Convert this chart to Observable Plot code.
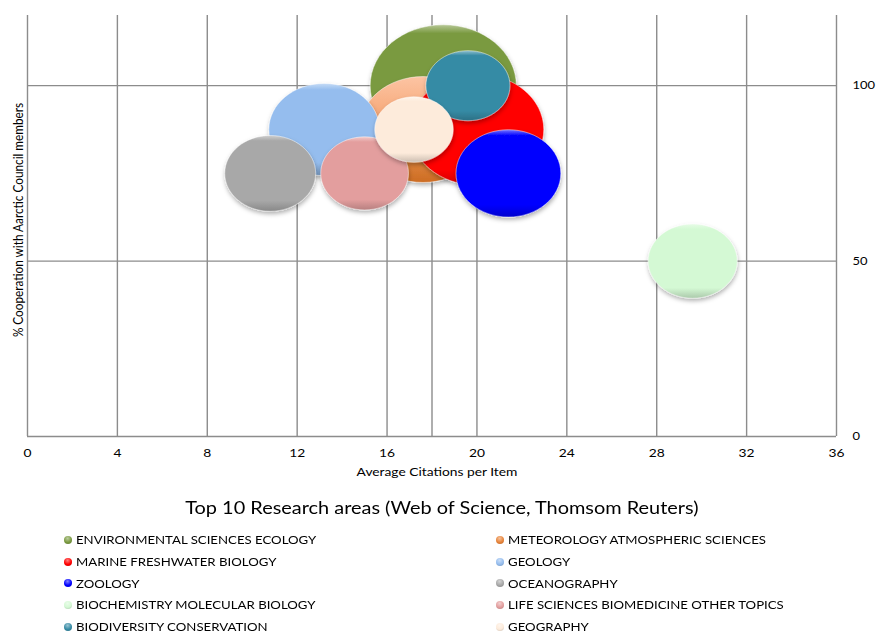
<!DOCTYPE html>
<html>
<head>
<meta charset="utf-8">
<script src="https://cdn.jsdelivr.net/npm/d3@7"></script>
<script src="https://cdn.jsdelivr.net/npm/@observablehq/plot@0.6"></script>
<style>
  html, body { margin: 0; padding: 0; background: #fff; }
  #wrap { width: 883px; font-family: Lato, "Open Sans", sans-serif; color: #000; }
  #title { text-align: center; font-size: 16.6px; line-height: 24px; margin-top: 11px; height: 24px; }
  #title span { display: inline-block; transform: scaleX(1.2); transform-origin: 50% 50%; }
  #legend { display: grid; grid-template-columns: 432px 387px; padding-left: 64px; padding-top: 9px; }
  .item { height: 21.75px; line-height: 21.75px; font-size: 11px; white-space: nowrap; display: flex; align-items: center; }
  .item .tx { display: inline-block; transform: scaleX(1.2); transform-origin: 0 50%; }
  .sw { width: 8px; height: 8px; border-radius: 50%; margin-right: 4px; flex: none; }
</style>
</head>
<body>
<div id="wrap">
  <div id="chart"></div>
  <div id="title"><span></span></div>
  <div id="legend"></div>
</div>
<script>
// ---- data ----
const areas = [
  "ENVIRONMENTAL SCIENCES ECOLOGY",
  "METEOROLOGY ATMOSPHERIC SCIENCES",
  "MARINE FRESHWATER BIOLOGY",
  "GEOLOGY",
  "ZOOLOGY",
  "OCEANOGRAPHY",
  "BIOCHEMISTRY MOLECULAR BIOLOGY",
  "LIFE SCIENCES BIOMEDICINE OTHER TOPICS",
  "BIODIVERSITY CONSERVATION",
  "GEOGRAPHY"
];
const avgCitations = [18.5, 17.6, 20.0, 13.2, 21.4, 10.8, 29.6, 15.0, 19.6, 17.2];
const cooperation = [100, 87.5, 87.5, 87.5, 75, 75, 50, 75, 100, 87.5];
const bubbleSize = [1000, 756, 836, 573, 514, 387, 372, 360, 331, 288];
const colors = ["#7a9a40", "#e8843a", "#ff0000", "#95bdee", "#0000ff", "#a8a8a8", "#d4f9d4", "#e39e9e", "#368ba5", "#fdebdb"];
const xTicks = [0, 4, 8, 12, 16, 20, 24, 28, 32, 36];
const yTicks = [0, 50, 100];
const xLabel = "Average Citations per Item";
const yLabel = "% Cooperation with Aarctic Council members";
const chartTitle = "Top 10 Research areas (Web of Science, Thomsom Reuters)";

const data = areas.map((a, i) => ({area: a, x: avgCitations[i], y: cooperation[i], size: bubbleSize[i]}));

// the whole reference picture is stretched horizontally by this factor
const STRETCH = 1.2;
const K = Math.sqrt(STRETCH), KAPPA = 0.5523;
const ellipse = {
  draw(ctx, size) {
    const r = Math.sqrt(size / Math.PI);
    const rx = r * K, ry = r / K;
    ctx.moveTo(rx, 0);
    ctx.bezierCurveTo(rx, ry * KAPPA, rx * KAPPA, ry, 0, ry);
    ctx.bezierCurveTo(-rx * KAPPA, ry, -rx, ry * KAPPA, -rx, 0);
    ctx.bezierCurveTo(-rx, -ry * KAPPA, -rx * KAPPA, -ry, 0, -ry);
    ctx.bezierCurveTo(rx * KAPPA, -ry, rx, -ry * KAPPA, rx, 0);
    ctx.closePath();
  }
};

const gridStyle = {stroke: "#8c8c8c", strokeOpacity: 1, strokeWidth: 1.4};

const svg = Plot.plot({
  width: 883,
  height: 485,
  marginLeft: 27,
  marginRight: 47,
  marginTop: 15,
  marginBottom: 49,
  style: {fontFamily: "Lato, 'Open Sans', sans-serif", fontSize: "11px", color: "#000", background: "#fff", overflow: "visible"},
  x: {domain: [0, 36], label: null},
  y: {domain: [0, 120], label: null},
  r: {domain: [0, 1000], range: [0, 66.7]},
  color: {domain: areas, range: areas.map((d, i) => `url(#bubble-grad-${i})`)},
  marks: [
    Plot.gridX(xTicks, gridStyle),
    Plot.ruleX([18], gridStyle),
    Plot.gridY(yTicks, gridStyle),
    Plot.axisX(xTicks, {tickSize: 0, tickPadding: 12, tickFormat: d => String(d), fontSize: 11.5, label: null}),
    Plot.axisY(yTicks, {anchor: "right", tickSize: 0, tickPadding: 16, tickFormat: d => String(d), fontSize: 10.8, label: null}),
    Plot.dot(data, {x: "x", y: "y", r: "size", fill: "area", symbol: ellipse, sort: null,
      stroke: "#ffffff", strokeOpacity: 0.45, strokeWidth: 1}),
    Plot.text([xLabel], {frameAnchor: "bottom", dy: 36, dx: 5, textAnchor: "middle", lineAnchor: "middle", fontSize: 11.5}),
    Plot.text([yLabel], {frameAnchor: "left", rotate: -90, dx: -9, dy: -6, textAnchor: "middle", lineAnchor: "middle", fontSize: 11.8})
  ]
});

// stretch every text horizontally around its anchor, like the reference
d3.select(svg).selectAll("text").each(function() {
  const t = this.getAttribute("transform") || "";
  const x = +this.getAttribute("x") || 0, y = +this.getAttribute("y") || 0;
  const m = t.match(/^\s*translate\([^)]*\)/);
  const pre = m ? m[0] : "";
  const rest = m ? t.slice(m[0].length) : t;
  this.setAttribute("transform", `${pre} translate(${x},${y}) scale(${STRETCH},1) translate(${-x},${-y}) ${rest}`);
});

// gradients + shadow for the 3-D bubble look
const defs = d3.select(svg).insert("defs", ":first-child");
function stopsFor(i) {
  const c = colors[i];
  if (i === 1) {
    return [[0, "#fcc4a3"], [0.4, "#f6a675"], [0.75, "#e2883f"], [1, "#cc6c24"]];
  }
  const light = d3.interpolateRgb(c, "#ffffff")(0.45);
  const dark = d3.color(c).darker(0.6).formatHex();
  return [[0, light], [0.07, c], [0.86, c], [1, dark]];
}
colors.forEach((c, i) => {
  const g = defs.append("linearGradient").attr("id", `bubble-grad-${i}`)
    .attr("x1", 0).attr("y1", 0).attr("x2", 0).attr("y2", 1);
  stopsFor(i).forEach(([o, col]) => g.append("stop").attr("offset", o).attr("stop-color", col));
});
const f = defs.append("filter").attr("id", "bubble-shadow")
  .attr("x", "-20%").attr("y", "-20%").attr("width", "140%").attr("height", "150%");
f.append("feDropShadow").attr("dx", 0.5).attr("dy", 2.5).attr("stdDeviation", 2)
  .attr("flood-color", "#000").attr("flood-opacity", 0.3);
d3.select(svg).selectAll("g[aria-label=dot] path").attr("filter", "url(#bubble-shadow)");

document.getElementById("chart").appendChild(svg);
document.querySelector("#title span").textContent = chartTitle;

// legend
const legend = document.getElementById("legend");
areas.forEach((a, i) => {
  const c = colors[i];
  const light = d3.interpolateRgb(c, "#ffffff")(0.5);
  const dark = d3.color(c).darker(0.7).formatHex();
  const item = document.createElement("div");
  item.className = "item";
  const sw = document.createElement("span");
  sw.className = "sw";
  sw.style.background = `radial-gradient(circle at 45% 30%, ${light} 0%, ${c} 55%, ${dark} 100%)`;
  const t = document.createElement("span");
  t.className = "tx";
  t.textContent = a;
  item.appendChild(sw);
  item.appendChild(t);
  legend.appendChild(item);
});
</script>
</body>
</html>
